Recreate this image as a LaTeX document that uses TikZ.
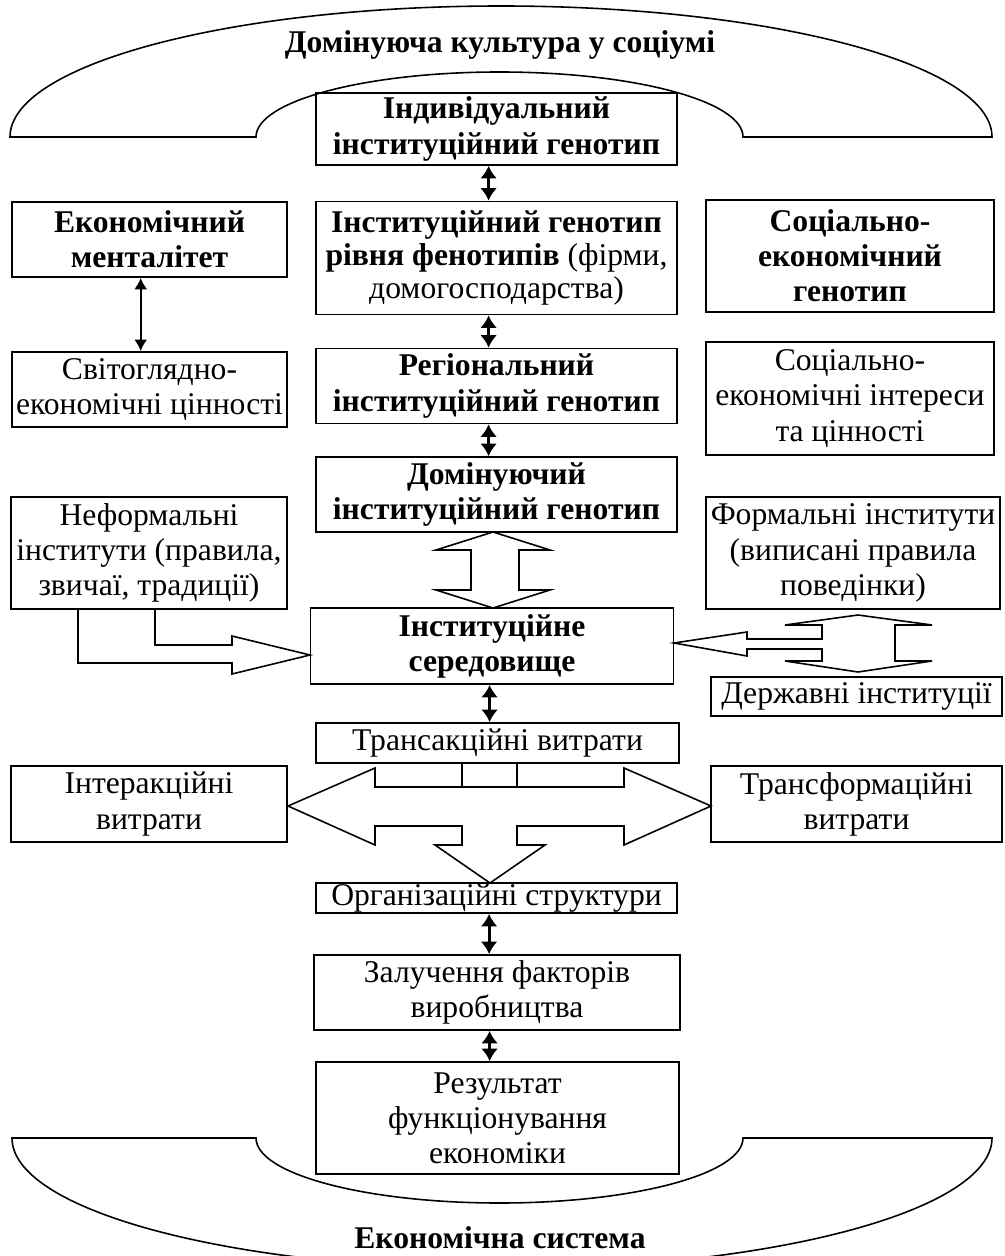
\documentclass[tikz,border=0pt]{standalone}
\usepackage{fontspec}
\setmainfont{Liberation Serif}
\usetikzlibrary{arrows.meta}
\tikzset{sz/.style 2 args={minimum width=#1*0.02cm,minimum height=#2*0.02cm}}

\begin{document}
\begin{tikzpicture}[x=0.02cm,y=-0.02cm,>={Latex[length=7pt,width=9.5pt]},
  font=\fontsize{18}{20}\selectfont,
  box/.style={draw,line width=1.1pt,align=center,inner sep=0pt},
  bold/.style={font=\fontsize{18}{20}\selectfont\bfseries},
  link/.style={<->,line width=1.6pt},
  blk/.style={line width=0.9pt,line join=miter}]
  \clip (0,0) rectangle (1004,1256);

  % arches
  \draw[blk] (10,137) arc[start angle=180,end angle=360,x radius=491,y radius=131]
    -- (743,137) arc[start angle=0,end angle=-180,x radius=243.5,y radius=65] -- cycle;
  \draw[blk] (12,1138) -- (256,1138) arc[start angle=180,end angle=0,x radius=243.5,y radius=65]
    -- (992,1138) arc[start angle=0,end angle=180,x radius=490,y radius=131] -- cycle;
  \node[bold,anchor=base] (cult) at (500,53) {Домінуюча культура у соціумі};
  \node[bold,anchor=base] (econ) at (500,1248) {Економічна система};

  % centre column
  \node[box,bold,sz={361}{72}] (ind) at (496.5,129) {Індивідуальний\\інституційний генотип};
  \node[box,sz={361}{113},font=\fontsize{18}{18.6}\selectfont] (phen) at (496.5,258) {\textbf{Інституційний генотип}\\\textbf{рівня фенотипів} (фірми,\\домогосподарства)};
  \node[box,bold,sz={361}{75}] (reg) at (496.5,386) {Регіональний\\інституційний генотип};
  \node[box,bold,sz={361}{75}] (dom) at (496.5,494.5) {Домінуючий\\інституційний генотип};
  \node[box,bold,sz={363}{76}] (inst) at (492,646) {Інституційне\\середовище};
  \node[box,sz={363}{40}] (trans) at (497.5,743) {Трансакційні витрати};
  \node[box,sz={361}{30}] (org) at (496.5,898) {Організаційні структури};
  \node[box,sz={366}{75}] (zal) at (497,992.5) {Залучення факторів\\виробництва};
  \node[box,sz={363}{112}] (res) at (497.5,1118) {Результат\\функціонування\\економіки};

  % left column
  \node[box,bold,sz={275}{75}] (men) at (149.5,239.5) {Економічний\\менталітет};
  \node[box,sz={275}{75}] (svit) at (149.5,389.5) {Світоглядно-\\економічні цінності};
  \node[box,sz={276}{112}] (neform) at (149,553) {Неформальні\\інститути (правила,\\звичаї, традиції)};
  \node[box,sz={276}{76}] (inter) at (149,804) {Інтеракційні\\витрати};

  % right column
  \node[box,bold,sz={288}{112}] (socgen) at (850,256) {Соціально-\\економічний\\генотип};
  \node[box,sz={288}{113}] (socint) at (850,398.5) {Соціально-\\економічні інтереси\\та цінності};
  \node[box,sz={294}{112}] (form) at (853,553) {Формальні інститути\\(виписані правила\\поведінки)};
  \node[box,sz={291}{39}] (derzh) at (856.5,696.5) {Державні інституції};
  \node[box,sz={291}{76}] (transf) at (856.5,804) {Трансформаційні\\витрати};

  % small two-way arrows
  \foreach \a/\b in {ind/phen,phen/reg,reg/dom,inst/trans,org/zal,zal/res}
    \draw[link] ([xshift=-4.5pt]\b.north |- \a.south) -- ([xshift=-4.5pt]\b.north);
  \draw[<->,line width=1.2pt,>={Latex[length=6.5pt,width=7.5pt]}] ([xshift=-5pt]men.south) -- ([xshift=-5pt]svit.north);

  % block arrows
  \draw[blk] (493,532) -- (550,550) -- (519,550) -- (519,590) -- (550,590) -- (493,608)
    -- (436,590) -- (471,590) -- (471,550) -- (436,550) -- cycle;
  \draw[blk] (78,609) -- (78,663) -- (232,663) -- (232,674) -- (310,655) -- (232,636)
    -- (232,645) -- (155,645) -- (155,609);
  \draw[blk] (674,643) -- (747,632) -- (747,639) -- (822,639) -- (822,625) -- (785,625)
    -- (858,615) -- (932,625) -- (895,625) -- (895,661) -- (932,661) -- (858,672)
    -- (785,661) -- (822,661) -- (822,649) -- (747,649) -- (747,656) -- cycle;
  \draw[blk] (288,806) -- (375,768) -- (375,787) -- (624,787) -- (624,768) -- (711,806)
    -- (624,845) -- (624,826) -- (517,826) -- (517,845) -- (545,845) -- (490,883)
    -- (435,845) -- (462,845) -- (462,826) -- (375,826) -- (375,845) -- cycle;
  \draw[blk] (462,763) rectangle (517,787);
\end{tikzpicture}
\end{document}
